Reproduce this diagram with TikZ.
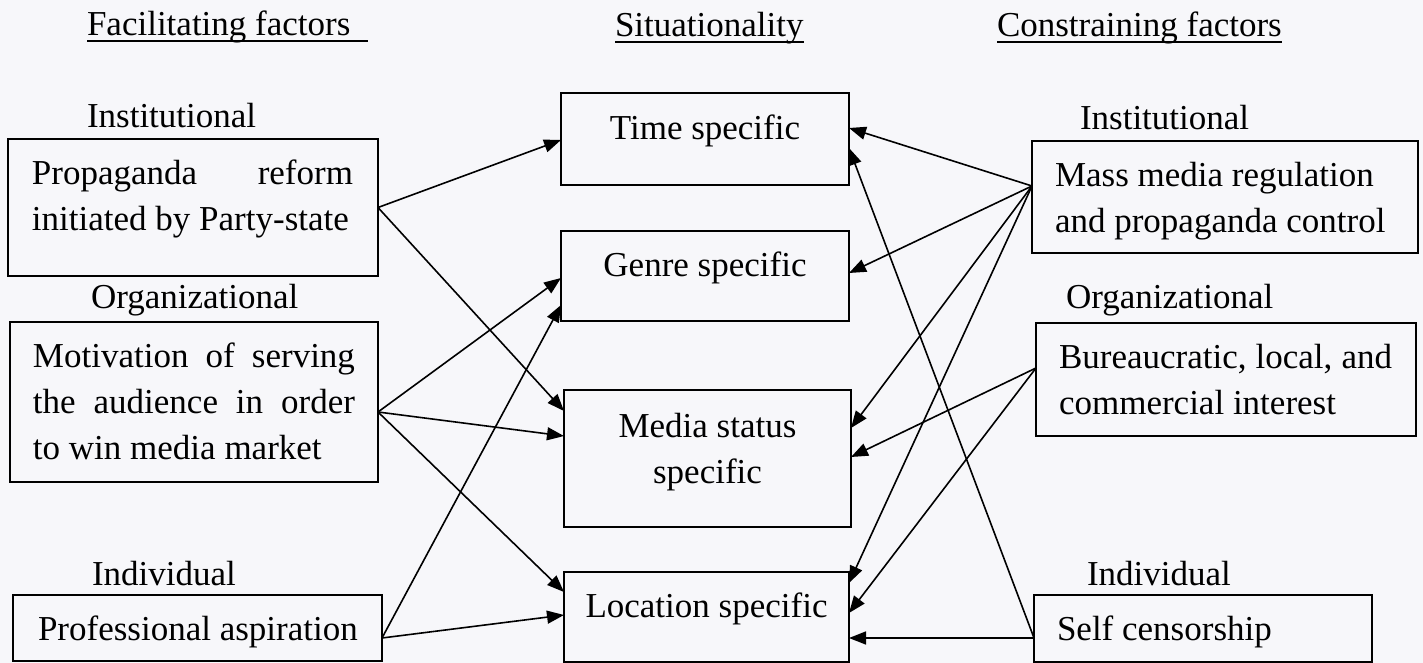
\documentclass[tikz,border=0pt]{standalone}
\usepackage{fontspec}
\setmainfont{Liberation Serif}
\usetikzlibrary{arrows.meta}
\definecolor{bg}{RGB}{247,247,250}
\newcommand\bx[5]{\parbox[c][#2][t]{#1}{\leftskip=#3\relax\rule{0pt}{#4}#5}}
\newcommand\cbx[4]{\parbox[c][#2][t]{#1}{\centering\rule{0pt}{#3}#4}}
\newcommand\ulx[1]{\setbox0\hbox{#1}\rlap{\rule[-3pt]{\wd0}{0.9pt}}\box0}
\begin{document}
\begin{tikzpicture}[x=0.5pt,y=-0.5pt,
  every node/.style={font=\fontsize{17.5pt}{23pt}\selectfont},
  box/.style={draw, line width=0.9pt, inner sep=0pt, outer sep=0pt, anchor=north west},
  lbl/.style={anchor=base west, inner sep=0pt, outer sep=0pt},
  arr/.style={-{Triangle[length=8.5pt,width=6.5pt]}, line width=0.8pt}]
\path[fill=bg] (0,0) rectangle (1423,663);
\useasboundingbox (0,0) rectangle (1423,663);
% headers
\node[lbl] (hf) at (87,36) {\ulx{Facilitating factors\hspace*{9pt}}};
\node[lbl] (hs) at (615,37) {\ulx{Situationality}};
\node[lbl] (hc) at (997,37) {\ulx{Constraining factors}};
% category labels
\node[lbl] (li) at (87,128) {Institutional};
\node[lbl] (lo2) at (91,308) {Organizational};
\node[lbl] (lin) at (92,585) {Individual};
\node[lbl] (ri) at (1080,130) {Institutional};
\node[lbl] (ro) at (1066,308) {Organizational};
\node[lbl] (rin) at (1087,585) {Individual};
% left boxes
\node[box] (l1) at (8,139) {\bx{185pt}{68.5pt}{12pt}{23pt}{\makebox[160.5pt][s]{Propaganda reform}\\initiated by Party-state}};
\node[box] (l2) at (10,322) {\bx{184pt}{80pt}{11.5pt}{22.5pt}{\makebox[161pt][s]{Motivation of serving}\\\makebox[161pt][s]{the audience in order}\\to win media market}};
\node[box] (l3) at (13,595) {\bx{184.5pt}{33pt}{12.5pt}{22.5pt}{Professional aspiration}};
% centre boxes
\node[box] (t) at (561,93) {\cbx{144pt}{46pt}{23.5pt}{Time specific}};
\node[box] (g) at (561,231) {\cbx{144pt}{45pt}{23pt}{Genre specific}};
\node[box] (m) at (564,390) {\cbx{143.5pt}{68.5pt}{23.5pt}{Media status\\specific}};
\node[box] (lo) at (564,572) {\cbx{142.5pt}{45pt}{22.5pt}{Location specific}};
% right boxes
\node[box] (r1) at (1032,141) {\bx{193pt}{56pt}{11.5pt}{23pt}{Mass media regulation\\and propaganda control}};
\node[box] (r2) at (1036,323) {\bx{190pt}{56.5pt}{11.5pt}{22.5pt}{\makebox[166.5pt][s]{Bureaucratic, local, and}\\commercial interest}};
\node[box] (r3) at (1034,595) {\bx{169pt}{33.5pt}{11.5pt}{22.5pt}{Self censorship}};
% left connectors
\draw[arr] (l1.east) -- ([yshift=-0.5pt]t.west);
\draw[arr] (l1.east) -- ([yshift=23.75pt]m.west);
\draw[arr] ([yshift=-5pt]l2.east) -- ([yshift=-1pt]g.west);
\draw[arr] ([yshift=-5pt]l2.east) -- ([yshift=11.25pt]m.west);
\draw[arr] ([yshift=-5pt]l2.east) -- ([yshift=12.5pt]lo.west);
\draw[arr] ([yshift=-5pt]l3.east) -- ([yshift=-14.5pt]g.west);
\draw[arr] ([yshift=-5pt]l3.east) -- ([yshift=1pt]lo.west);
% right connectors
\draw[arr] ([yshift=5.5pt]r1.west) -- ([yshift=5.5pt]t.east);
\draw[arr] ([yshift=5.5pt]r1.west) -- ([yshift=1.5pt]g.east);
\draw[arr] ([yshift=5.5pt]r1.west) -- ([yshift=15.25pt]m.east);
\draw[arr] ([yshift=5.5pt]r1.west) -- ([yshift=17pt]lo.east);
\draw[arr] ([yshift=5.75pt]r2.west) -- ([yshift=0.75pt]m.east);
\draw[arr] ([yshift=5.75pt]r2.west) -- ([yshift=2pt]lo.east);
\draw[arr] ([yshift=-4.75pt]r3.west) -- ([yshift=-4.5pt]t.east);
\draw[arr] ([yshift=-4.75pt]r3.west) -- ([yshift=-10.5pt]lo.east);
\end{tikzpicture}
\end{document}
